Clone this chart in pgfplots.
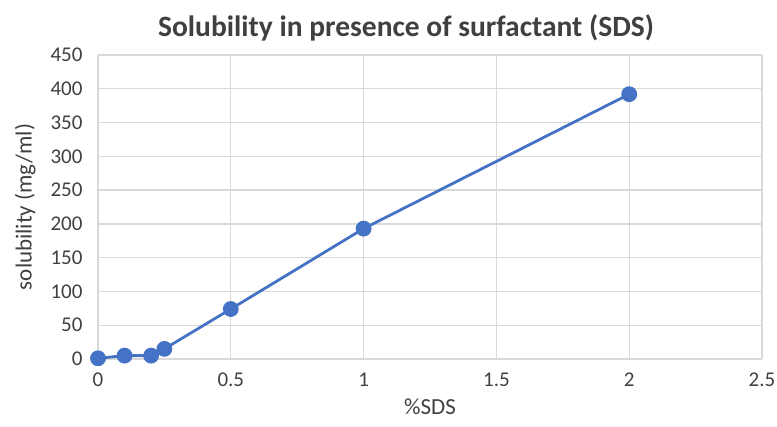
\documentclass[border=0pt]{standalone}
\usepackage{pgfplots}
\pgfplotsset{compat=1.18}
\usepackage{fontspec}
\setmainfont{Carlito}
\definecolor{ser}{HTML}{4472C4}
\definecolor{gridc}{HTML}{D9D9D9}
\definecolor{txt}{HTML}{404040}
\begin{document}
\begin{tikzpicture}
\path[use as bounding box] (-98pt,-68pt) rectangle (679pt,359pt);
\begin{axis}[
  at={(0,0)}, anchor=origin,
  scale only axis, width=664pt, height=304pt,
  xmin=0, xmax=2.5, ymin=0, ymax=450,
  xtick={0,0.5,...,2.5}, ytick={0,50,...,450},
  xticklabels={0,0.5,1,1.5,2,2.5},
  grid=major, major grid style={gridc, line width=1.3pt},
  axis line style={gridc, line width=1.3pt},
  axis x line*=bottom, axis y line*=left,
  tick style={draw=none},
  ticklabel style={font=\fontsize{21}{23}\selectfont, text=txt},
  /pgf/number format/assume math mode=true,
  xticklabel style={yshift=-10pt},
  yticklabel style={xshift=-12pt},
  title={\bfseries Solubility in presence of surfactant (SDS)},
  title style={font=\fontsize{29.5}{32}\selectfont, text=txt, xshift=-24pt, yshift=4pt},
  xlabel={\%SDS}, ylabel={solubility (mg/ml)},
  label style={font=\fontsize{23}{25}\selectfont, text=txt},
  xlabel style={yshift=-6pt},
  ylabel style={yshift=8pt},
  clip=false,
]
\addplot[ser, line width=2.8pt, mark=*, mark size=6.5pt, mark options={fill=ser, draw=ser}]
coordinates {(0,1) (0.1,5) (0.2,5) (0.25,15) (0.5,74) (1,193) (2,392)};
\end{axis}
\end{tikzpicture}
\end{document}
